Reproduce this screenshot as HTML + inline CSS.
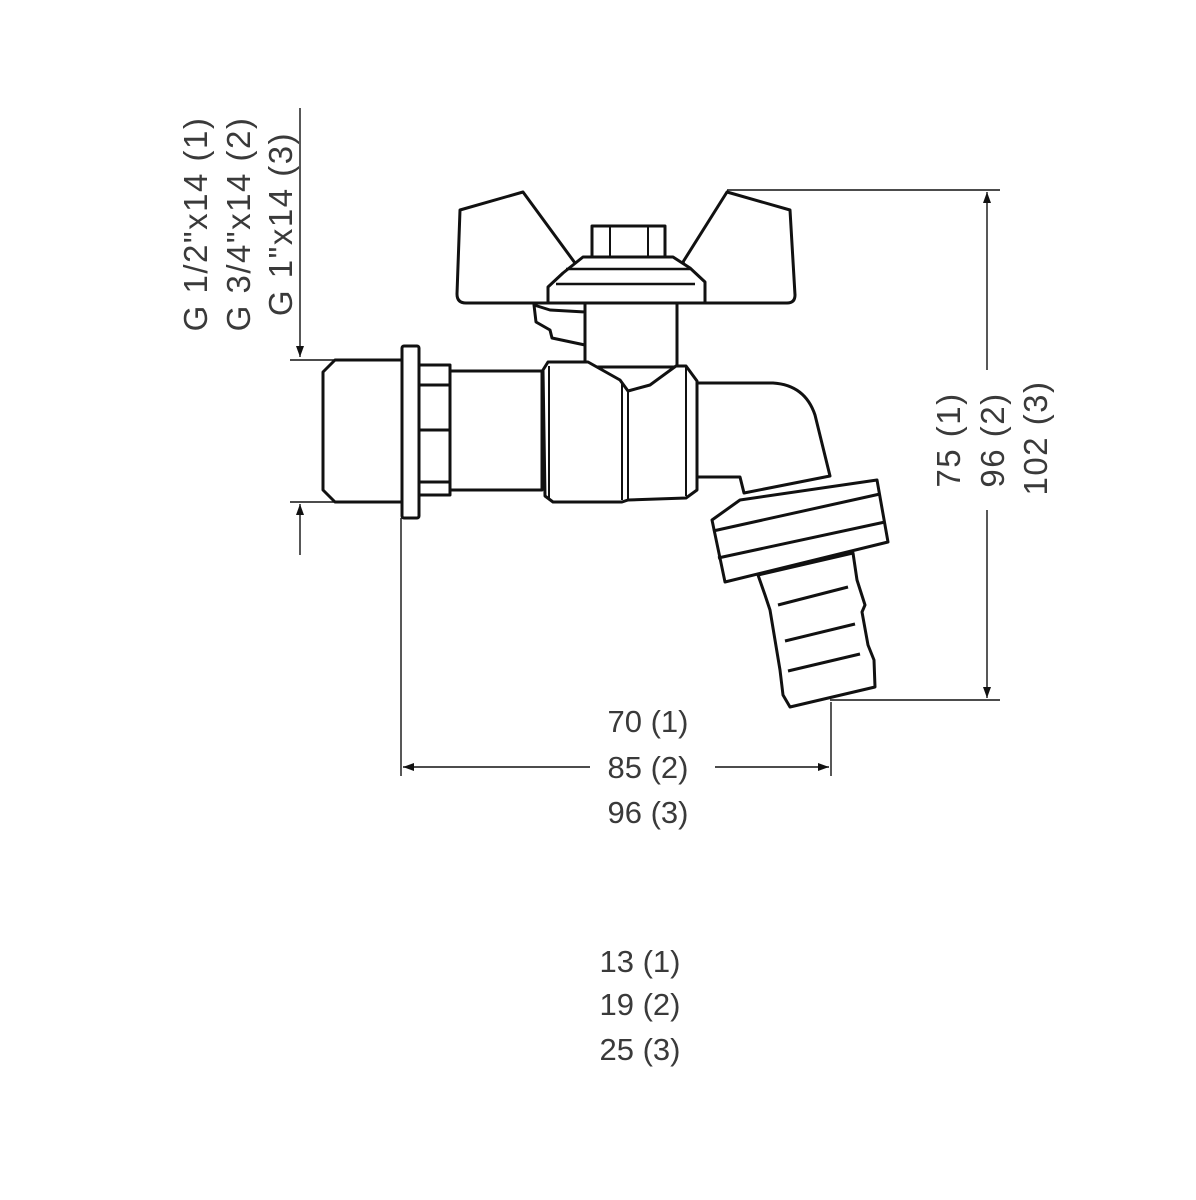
<!DOCTYPE html>
<html><head><meta charset="utf-8"><style>
html,body{margin:0;padding:0;background:#fff}
svg{display:block}
text{font-family:"Liberation Sans",sans-serif;font-size:31px;fill:#3a3a3a}
text.r{font-size:33px;letter-spacing:1.5px}
</style></head><body>
<svg width="1196" height="1200" viewBox="0 0 1196 1200" xmlns="http://www.w3.org/2000/svg">
<defs>
<marker id="ar" markerWidth="12" markerHeight="12" refX="11" refY="6" orient="auto" markerUnits="userSpaceOnUse">
<path d="M0,2 L11,6 L0,10 Z" fill="#111"/></marker>
</defs>
<g stroke="#111" stroke-width="1.4" fill="none">
<line x1="300" y1="108" x2="300" y2="357" marker-end="url(#ar)"/>
<line x1="290" y1="360" x2="402" y2="360"/>
<line x1="290" y1="502" x2="402" y2="502"/>
<line x1="300" y1="555" x2="300" y2="504" marker-end="url(#ar)"/>
<line x1="727" y1="190" x2="1000" y2="190"/>
<line x1="987" y1="370" x2="987" y2="192" marker-end="url(#ar)"/>
<line x1="987" y1="510" x2="987" y2="698" marker-end="url(#ar)"/>
<line x1="830" y1="700" x2="1000" y2="700"/>
<line x1="401" y1="518" x2="401" y2="776"/>
<line x1="831" y1="702" x2="831" y2="776"/>
<line x1="590" y1="767" x2="403" y2="767" marker-end="url(#ar)"/>
<line x1="715" y1="767" x2="829" y2="767" marker-end="url(#ar)"/>
</g>
<g stroke="#111" stroke-width="3" fill="#fff" stroke-linejoin="round">
<path d="M335,360 L402,360 L402,502 L335,502 L323,490 L323,372 Z"/>
<rect x="402" y="346" width="17" height="172" rx="2"/>
<rect x="419" y="365" width="31" height="130"/>
<line x1="419" y1="385" x2="450" y2="385"/>
<line x1="419" y1="430" x2="450" y2="430"/>
<line x1="419" y1="482" x2="450" y2="482"/>
<rect x="450" y="371" width="92" height="119"/>
<path d="M690,383 L773,383 Q805,385 815,415 L830,476 L744,493 L740,477 L690,477 Z"/>
<rect x="585" y="303" width="92" height="64"/>
<path d="M550,310 L585,312 L585,345 L552,338 L550,330 L536,322 L534,305 Z"/>
<path d="M548,362 L588,362 L620,380 L628,391 L650,385 L676,366 L686,366 L697,381 L697,490 L686,498 L628,500 L622,502 L553,502 L545,496 L543,370 Z"/>
<line x1="549" y1="366" x2="549" y2="498" stroke-width="2"/>
<line x1="622" y1="382" x2="622" y2="500" stroke-width="2"/>
<line x1="628" y1="391" x2="628" y2="500" stroke-width="2"/>
<line x1="686" y1="366" x2="686" y2="496" stroke-width="2"/>
<path d="M460,210 L523,192 L575,263 L560,303 L466,303 Q457,303 457,294 Z"/>
<path d="M727,192 L790,210 L795,295 Q795,303 787,303 L700,303 L683,262 Z"/>
<path d="M548,303 L548,287 L563,273 L583,257 L673,257 L690,268 L705,282 L705,303 Z"/>
<line x1="566" y1="269" x2="690" y2="269" stroke-width="2.5"/>
<line x1="556" y1="284" x2="695" y2="284" stroke-width="2.5"/>
<rect x="592" y="226" width="73" height="31"/>
<line x1="610" y1="226" x2="610" y2="257" stroke-width="2"/>
<line x1="648" y1="226" x2="648" y2="257" stroke-width="2"/>
<path d="M712,520 L740,500 L877,480 L888,542 L725,582 Z"/>
<line x1="713" y1="531" x2="880" y2="494"/>
<line x1="718" y1="558" x2="885" y2="522"/>
<path d="M758,575 L853,553 L857,580 L865,605 L862,612 L868,645 L874,660 L875,687 L790,707 L783,695 L780,670 L775,640 L770,610 L765,595 Z"/>
<line x1="778" y1="605" x2="848" y2="587"/>
<line x1="785" y1="641" x2="855" y2="624"/>
<line x1="788" y1="671" x2="860" y2="654"/>
</g>
<text class="r" transform="translate(207,224) rotate(-90)" text-anchor="middle">G 1/2"x14 (1)</text>
<text class="r" transform="translate(250,224) rotate(-90)" text-anchor="middle">G 3/4"x14 (2)</text>
<text class="r" transform="translate(292,224) rotate(-90)" text-anchor="middle">G 1"x14 (3)</text>
<text class="r" transform="translate(960,440) rotate(-90)" text-anchor="middle">75 (1)</text>
<text class="r" transform="translate(1004,440) rotate(-90)" text-anchor="middle">96 (2)</text>
<text class="r" transform="translate(1047,438) rotate(-90)" text-anchor="middle">102 (3)</text>
<text x="648" y="732" text-anchor="middle">70 (1)</text>
<text x="648" y="778" text-anchor="middle">85 (2)</text>
<text x="648" y="823" text-anchor="middle">96 (3)</text>
<text x="640" y="972" text-anchor="middle">13 (1)</text>
<text x="640" y="1015" text-anchor="middle">19 (2)</text>
<text x="640" y="1060" text-anchor="middle">25 (3)</text>
</svg>
</body></html>
